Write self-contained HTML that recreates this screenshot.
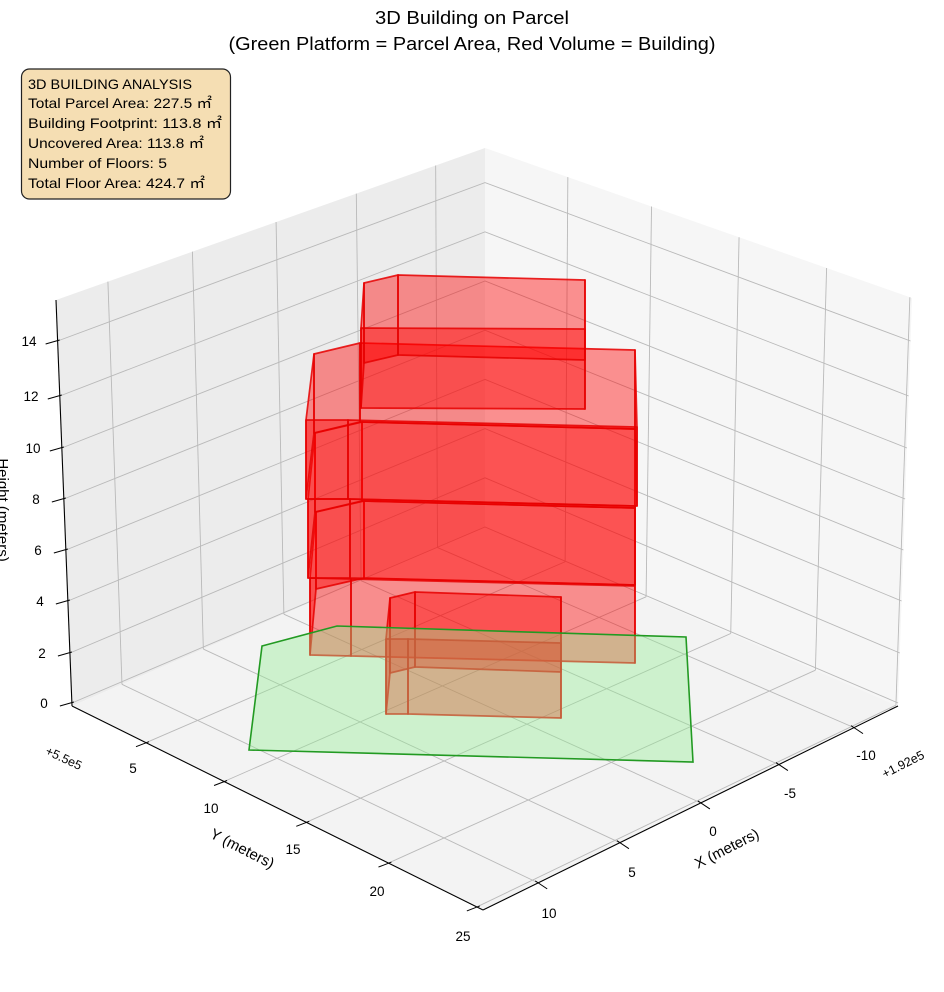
<!DOCTYPE html>
<html><head><meta charset="utf-8"><style>
html,body{margin:0;padding:0;background:#fff;}
svg{display:block;font-family:"Liberation Sans","Noto Sans CJK SC",sans-serif;}
</style></head><body>
<svg id="s" width="944" height="992" viewBox="0 0 944 992" xmlns="http://www.w3.org/2000/svg">
<text x="472" y="24" font-size="18" text-anchor="middle" textLength="194" lengthAdjust="spacingAndGlyphs">3D Building on Parcel</text>
<text x="472" y="50" font-size="18" text-anchor="middle" textLength="487" lengthAdjust="spacingAndGlyphs">(Green Platform = Parcel Area, Red Volume = Building)</text>
<g id="panes"></g>
<g id="grid" stroke="#b9b9b9" stroke-width="0.9" fill="none"></g>
<g id="axes"></g>
<g id="bld"></g>
<polygon points="262,646 337,626 686,637 693,762 249,750" fill="#90ee90" fill-opacity="0.38" stroke="#229a22" stroke-width="1.6"/>
<rect x="21.5" y="69" width="209" height="130" rx="8" fill="#f5deb3" stroke="#222" stroke-width="1.2"/>
<g font-size="14" fill="#000">
<text x="28" y="89" textLength="164" lengthAdjust="spacingAndGlyphs">3D BUILDING ANALYSIS</text>
<text x="28" y="108" textLength="184" lengthAdjust="spacingAndGlyphs">Total Parcel Area: 227.5 ㎡</text>
<text x="28" y="128" textLength="194" lengthAdjust="spacingAndGlyphs">Building Footprint: 113.8 ㎡</text>
<text x="28" y="148" textLength="176" lengthAdjust="spacingAndGlyphs">Uncovered Area: 113.8 ㎡</text>
<text x="28" y="168" textLength="139" lengthAdjust="spacingAndGlyphs">Number of Floors: 5</text>
<text x="28" y="188" textLength="177" lengthAdjust="spacingAndGlyphs">Total Floor Area: 424.7 ㎡</text>
</g>
</svg>
<script>
var NS="http://www.w3.org/2000/svg";
function el(p,t,a,txt){var e=document.createElementNS(NS,t);for(var k in a)e.setAttribute(k,a[k]);if(txt!==undefined)e.textContent=txt;document.getElementById(p).appendChild(e);return e;}
function L(a,b,f){return [a[0]+(b[0]-a[0])*f,a[1]+(b[1]-a[1])*f];}
function pts(a){return a.map(function(p){return p[0].toFixed(1)+","+p[1].toFixed(1)}).join(" ");}
var PL=[72,706],PB=[485,527],PR=[898,706],PF=[483,910],TL=[56,300],TB=[485,148],TR=[912,298];
el("panes","polygon",{points:pts([PL,PB,TB,TL]),fill:"#ececec"});
el("panes","polygon",{points:pts([PB,PR,TR,TB]),fill:"#f6f6f6"});
el("panes","polygon",{points:pts([PL,PB,PR,PF]),fill:"#f3f3f3"});
var fxB=[0.121,0.318,0.513,0.70,0.885], fxF=[0.133,0.33,0.525,0.713,0.894];
var syF=[0.18,0.37,0.57,0.77,0.985], syB=[0.194,0.39,0.595,0.80,0.995];
function line(g,a,b,extra){var o={x1:a[0],y1:a[1],x2:b[0],y2:b[1]};for(var k in extra)o[k]=extra[k];return el(g,"line",o);}
for(var i=0;i<5;i++){
  line("grid",L(PL,PB,fxB[i]),L(TL,TB,fxB[i]));
  line("grid",L(PL,PB,fxB[i]),L(PF,PR,fxF[i]));
  line("grid",L(PB,PR,syB[i]),L(TB,TR,syB[i]));
  line("grid",L(PL,PF,syF[i]),L(PB,PR,syB[i]));
}
var zy=[703,653,601,550,499,448,396,341];
for(var j=0;j<8;j++){
  var y=zy[j],z=j*2;
  var a=[72-16*(706-y)/406,y], b=[485,527-z*24.6], c=[898+14*(706-y)/408,y];
  el("grid","polyline",{points:pts([a,b,c])});
}
line("axes",PL,PF,{stroke:"#000","stroke-width":1.1});
line("axes",PF,PR,{stroke:"#000","stroke-width":1.1});
line("axes",PL,TL,{stroke:"#000","stroke-width":1.1});
var zlx=[44,42,40,38,36,33,31,29];
for(var j=0;j<8;j++){
  var y=zy[j],ax=72-16*(706-y)/406;
  line("axes",[ax-12,y+3],[ax+2,y-1],{stroke:"#000","stroke-width":1});
  el("axes","text",{x:zlx[j],y:y+5,"font-size":13.5,"text-anchor":"middle"},String(j*2));
}
var xl=[[549,913,"10"],[632,872,"5"],[713,831,"0"],[790,793,"-5"],[866,755,"-10"]];
var yl=[[133,768,"5"],[211,808,"10"],[293,849,"15"],[377,891,"20"],[463,936,"25"]];
for(var i=0;i<5;i++){
  var p=L(PF,PR,fxF[i]);
  line("axes",[p[0]-3,p[1]-2],[p[0]+9,p[1]+6],{stroke:"#000","stroke-width":1});
  el("axes","text",{x:xl[i][0],y:xl[i][1]+5,"font-size":13.5,"text-anchor":"middle"},xl[i][2]);
  var q=L(PL,PF,syF[i]);
  line("axes",[q[0]+3,q[1]-1],[q[0]-10,q[1]+4],{stroke:"#000","stroke-width":1});
  el("axes","text",{x:yl[i][0],y:yl[i][1]+5,"font-size":13.5,"text-anchor":"middle"},yl[i][2]);
}
el("axes","text",{transform:"translate(62,762) rotate(25)","font-size":12.5,"text-anchor":"middle"},"+5.5e5");
el("axes","text",{transform:"translate(905,768) rotate(-27)","font-size":12.5,"text-anchor":"middle"},"+1.92e5");
el("axes","text",{transform:"translate(240,853) rotate(27)","font-size":15,"text-anchor":"middle"},"Y (meters)");
el("axes","text",{transform:"translate(729,853) rotate(-27)","font-size":15,"text-anchor":"middle"},"X (meters)");
el("axes","text",{transform:"translate(-2,510) rotate(90)","font-size":15,"text-anchor":"middle"},"Height (meters)");
function prism(base,fp,h){
  var bot=fp.map(function(p){return [base[0]+p[0],base[1]+p[1]];});
  var top=bot.map(function(p){return [p[0],p[1]-h];});
  var n=fp.length;
  for(var i=0;i<n;i++){var k=(i+1)%n;
    el("bld","polygon",{points:pts([bot[i],bot[k],top[k],top[i]]),fill:"#ff0000","fill-opacity":0.42,stroke:"none"});}
  for(var i=0;i<n;i++){var k=(i+1)%n;
    el("bld","polygon",{points:pts([bot[i],bot[k],top[k],top[i]]),fill:"none",stroke:"#e60000","stroke-width":1.7,"stroke-opacity":0.85,"stroke-linejoin":"round"});}
}
prism([310,655],[[0,0],[41,1],[325,8],[325,-70],[54,-77],[6,-66]],77);
prism([308,578],[[0,0],[42,0],[327,7],[327,-70],[54,-77],[7,-66]],79);
prism([306,499],[[0,0],[42,0],[331,7],[329,-70],[54,-77],[8,-66]],79);
prism([361,408],[[0,0],[224,1],[224,-48],[37,-53],[3,-45]],80);
prism([386,714],[[0,0],[22,0],[175,4],[175,-42],[29,-47],[4,-41]],75);
</script>
</body></html>
